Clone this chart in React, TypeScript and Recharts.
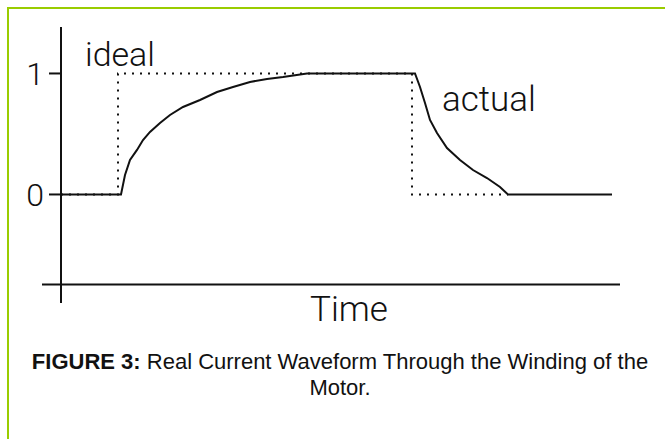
import { LineChart, Line, XAxis, YAxis, ReferenceLine } from "recharts";

// time in arbitrary units (5 px per unit in the original figure), current normalised to 0..1
const idealTime = [0, 11.4, 11.4, 70.2, 70.2, 89.4];
const idealCurrent = [0, 0, 1, 1, 0, 0];

const actualTime = [
  0, 12, 12.8, 13.8, 15.2, 16.4, 17.8, 19.8, 21.8, 24.4, 27.8, 31.2, 34.4, 37.8, 41.2, 44.4, 49.2,
  70.8, 71.8, 72.8, 73.8, 75.2, 77.2, 79.8, 82.4, 85.2, 87.8, 89.4, 110.2,
];
const actualCurrent = [
  0, 0, 0.161, 0.285, 0.368, 0.45, 0.517, 0.591, 0.657, 0.723, 0.781, 0.847, 0.888, 0.93, 0.955, 0.971, 1,
  1, 0.888, 0.756, 0.616, 0.508, 0.384, 0.285, 0.202, 0.136, 0.062, 0, 0,
];

const yTicks = [0, 1];

const ideal = idealTime.map((t, i) => ({ t, v: idealCurrent[i] }));
const actual = actualTime.map((t, i) => ({ t, v: actualCurrent[i] }));

const ink = "#111";
const labelFont = "Roboto, 'Liberation Sans', sans-serif";

const textStyle: React.CSSProperties = {
  position: "absolute",
  fontFamily: labelFont,
  fontWeight: 300,
  color: ink,
  lineHeight: 1,
  whiteSpace: "nowrap",
};

export default function App() {
  return (
    <div style={{ position: "absolute", left: 0, top: 0, width: 665, height: 439, background: "#fff", overflow: "hidden" }}>
      <div
        style={{
          position: "absolute",
          left: 7,
          top: 7,
          width: 665,
          height: 439,
          borderTop: "2px solid #99cc00",
          borderLeft: "2px solid #99cc00",
        }}
      />
      <div style={{ position: "absolute", left: 0, top: 0 }}>
        <LineChart width={665} height={320} margin={{ top: 27, right: 45, bottom: 17, left: 21 }}>
          <XAxis type="number" dataKey="t" domain={[0, 111.8]} hide allowDataOverflow />
          <YAxis
            type="number"
            domain={[-0.897, 1.384]}
            ticks={yTicks}
            width={40}
            allowDataOverflow
            axisLine={{ stroke: ink, strokeWidth: 2 }}
            tickLine={{ stroke: ink, strokeWidth: 2 }}
            tickSize={12}
            tickMargin={5}
            tick={{ fill: ink, fontSize: 32, fontFamily: labelFont, fontWeight: 300 }}
          />
          <ReferenceLine
            segment={[
              { x: -3.8, y: -0.744 },
              { x: 111.8, y: -0.744 },
            ]}
            stroke={ink}
            strokeWidth={2}
            ifOverflow="visible"
          />
          <Line
            data={ideal}
            dataKey="v"
            type="linear"
            stroke={ink}
            strokeWidth={2}
            strokeDasharray="2 6"
            dot={false}
            isAnimationActive={false}
          />
          <Line
            data={actual}
            dataKey="v"
            type="linear"
            stroke={ink}
            strokeWidth={2}
            dot={false}
            isAnimationActive={false}
          />
        </LineChart>
      </div>
      <div style={{ ...textStyle, left: 85, top: 37, fontSize: 34 }}>ideal</div>
      <div style={{ ...textStyle, left: 442, top: 82, fontSize: 35 }}>actual</div>
      <div style={{ ...textStyle, left: 310, top: 292, fontSize: 35 }}>Time</div>
      <div
        style={{
          position: "absolute",
          left: 10,
          width: 660,
          top: 349,
          textAlign: "center",
          fontFamily: "'Liberation Sans', Arial, sans-serif",
          fontSize: 22,
          lineHeight: "26px",
          color: ink,
        }}
      >
        <b>FIGURE 3:</b> Real Current Waveform Through the Winding of the
        <br />
        Motor.
      </div>
    </div>
  );
}
